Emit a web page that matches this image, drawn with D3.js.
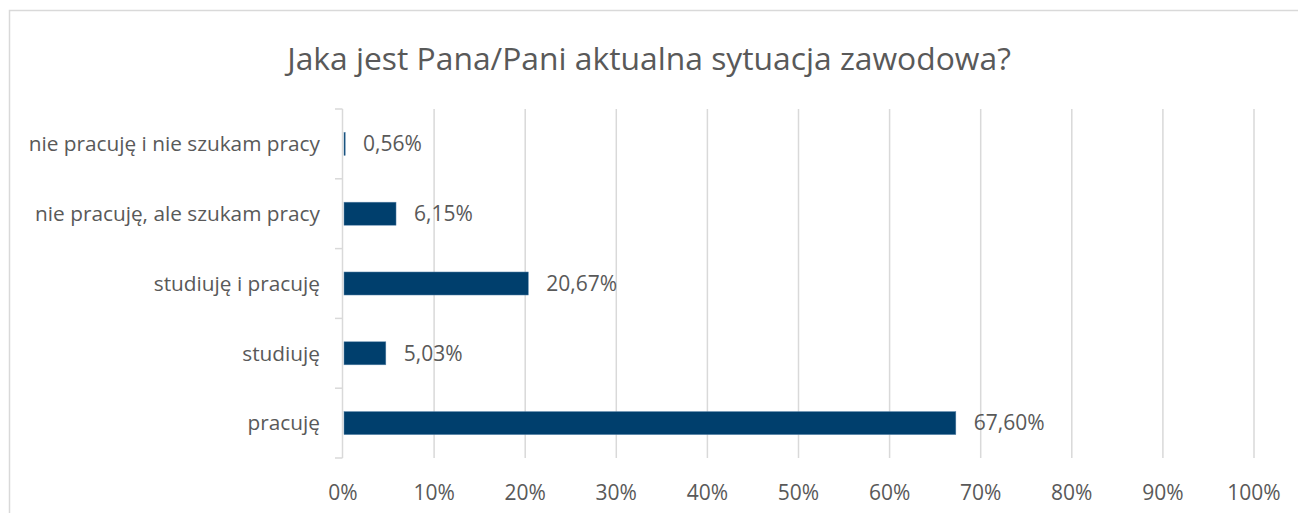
<!DOCTYPE html>
<html>
<head>
<meta charset="utf-8">
<script src="https://cdn.jsdelivr.net/npm/d3@7"></script>
<style>
  body { margin: 0; background: #fff; }
  svg text { font-family: "Open Sans", sans-serif; fill: #595959; }
</style>
</head>
<body>
<svg id="chart" width="1298" height="513"></svg>
<script>
const title = 'Jaka jest Pana/Pani aktualna sytuacja zawodowa?';
const categories = [
  'nie pracuję i nie szukam pracy',
  'nie pracuję, ale szukam pracy',
  'studiuję i pracuję',
  'studiuję',
  'pracuję',
];
const values = [0.56, 6.15, 20.67, 5.03, 67.60];
const xTicks = [0, 10, 20, 30, 40, 50, 60, 70, 80, 90, 100];

const svg = d3.select('#chart');

// chart area frame (right/bottom edges are off-picture)
svg.append('path')
  .attr('d', 'M9.5,520V10.5H1300')
  .attr('fill', 'none')
  .attr('stroke', '#d9d9d9')
  .attr('stroke-width', 1.5);

svg.append('text')
  .attr('x', 649)
  .attr('y', 70)
  .attr('text-anchor', 'middle')
  .attr('font-size', 31.8)
  .text(title);

const x = d3.scaleLinear().domain([0, 100]).range([343, 1254]);
const y = d3.scaleBand().domain(categories).range([109, 458]).paddingInner(0.67).paddingOuter(0.335);

// gridlines
svg.append('g').selectAll('line')
  .data(xTicks.slice(1))
  .enter()
  .append('line')
  .attr('x1', d => x(d))
  .attr('x2', d => x(d))
  .attr('y1', 109)
  .attr('y2', 458)
  .attr('stroke', '#d9d9d9')
  .attr('stroke-width', 1.5);

// y axis
const yAxisTicks = d3.range(categories.length + 1).map(i => 109 + i * (458 - 109) / categories.length);
svg.append('line')
  .attr('x1', 342.5).attr('x2', 342.5)
  .attr('y1', 109).attr('y2', 458)
  .attr('stroke', '#d9d9d9').attr('stroke-width', 1.5);
svg.append('g').selectAll('line')
  .data(yAxisTicks)
  .enter()
  .append('line')
  .attr('x1', 335).attr('x2', 342.5)
  .attr('y1', d => d).attr('y2', d => d)
  .attr('stroke', '#d9d9d9').attr('stroke-width', 1.5);

svg.append('g').selectAll('text')
  .data(categories)
  .enter()
  .append('text')
  .attr('x', 320)
  .attr('y', d => y(d) + y.bandwidth() / 2)
  .attr('dy', '0.35em')
  .attr('text-anchor', 'end')
  .attr('font-size', 20.8)
  .text(d => d);

// bars (Excel leaves a small gap at the value end)
svg.append('g').selectAll('rect')
  .data(values)
  .enter()
  .append('rect')
  .attr('x', x(0) + 1)
  .attr('y', (d, i) => y(categories[i]))
  .attr('width', d => Math.max(1.2, x(d) - x(0) - 4))
  .attr('height', y.bandwidth())
  .attr('fill', '#003f6d')
  .attr('stroke', '#5b86ab')
  .attr('stroke-width', 0.5);

svg.append('g').selectAll('text')
  .data(values)
  .enter()
  .append('text')
  .attr('x', d => x(d) + 15)
  .attr('y', (d, i) => y(categories[i]) + y.bandwidth() / 2)
  .attr('dy', '0.35em')
  .attr('font-size', 21)
  .text(d => d.toFixed(2).replace('.', ',') + '%');

// x axis labels
svg.append('g').selectAll('text')
  .data(xTicks)
  .enter()
  .append('text')
  .attr('x', d => x(d))
  .attr('y', 493)
  .attr('dy', '0.35em')
  .attr('text-anchor', 'middle')
  .attr('font-size', 21)
  .text(d => d + '%');
</script>
</body>
</html>
